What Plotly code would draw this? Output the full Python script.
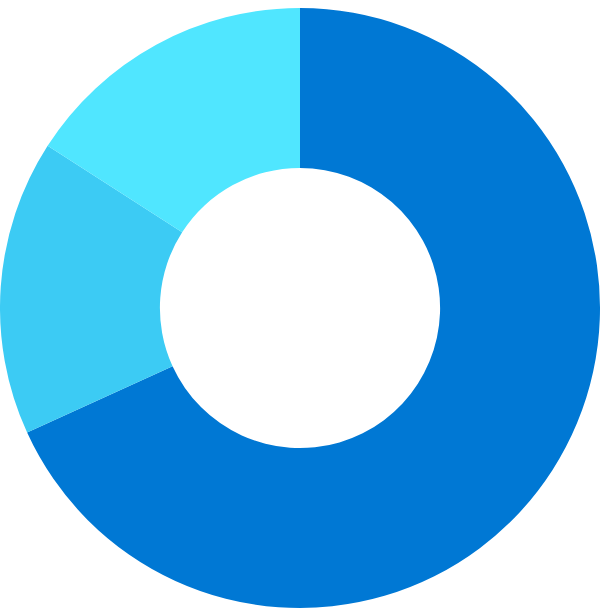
import plotly.graph_objects as go

labels = ["A", "B", "C"]
values = [30, 7, 7]
colors = ["#0078D4", "#3CCBF4", "#50E6FF"]

fig = go.Figure(go.Pie(
    labels=labels,
    values=values,
    hole=0.467,
    sort=False,
    direction="clockwise",
    rotation=0,
    marker=dict(colors=colors, line=dict(width=0)),
    textinfo="none",
    hoverinfo="label+value",
))
fig.update_layout(
    width=600, height=612,
    margin=dict(l=0, r=0, t=8, b=4),
    showlegend=False,
    paper_bgcolor="white",
)
fig.write_html("out.html", config={"displayModeBar": False},
               post_script="document.body.style.margin='0';")
